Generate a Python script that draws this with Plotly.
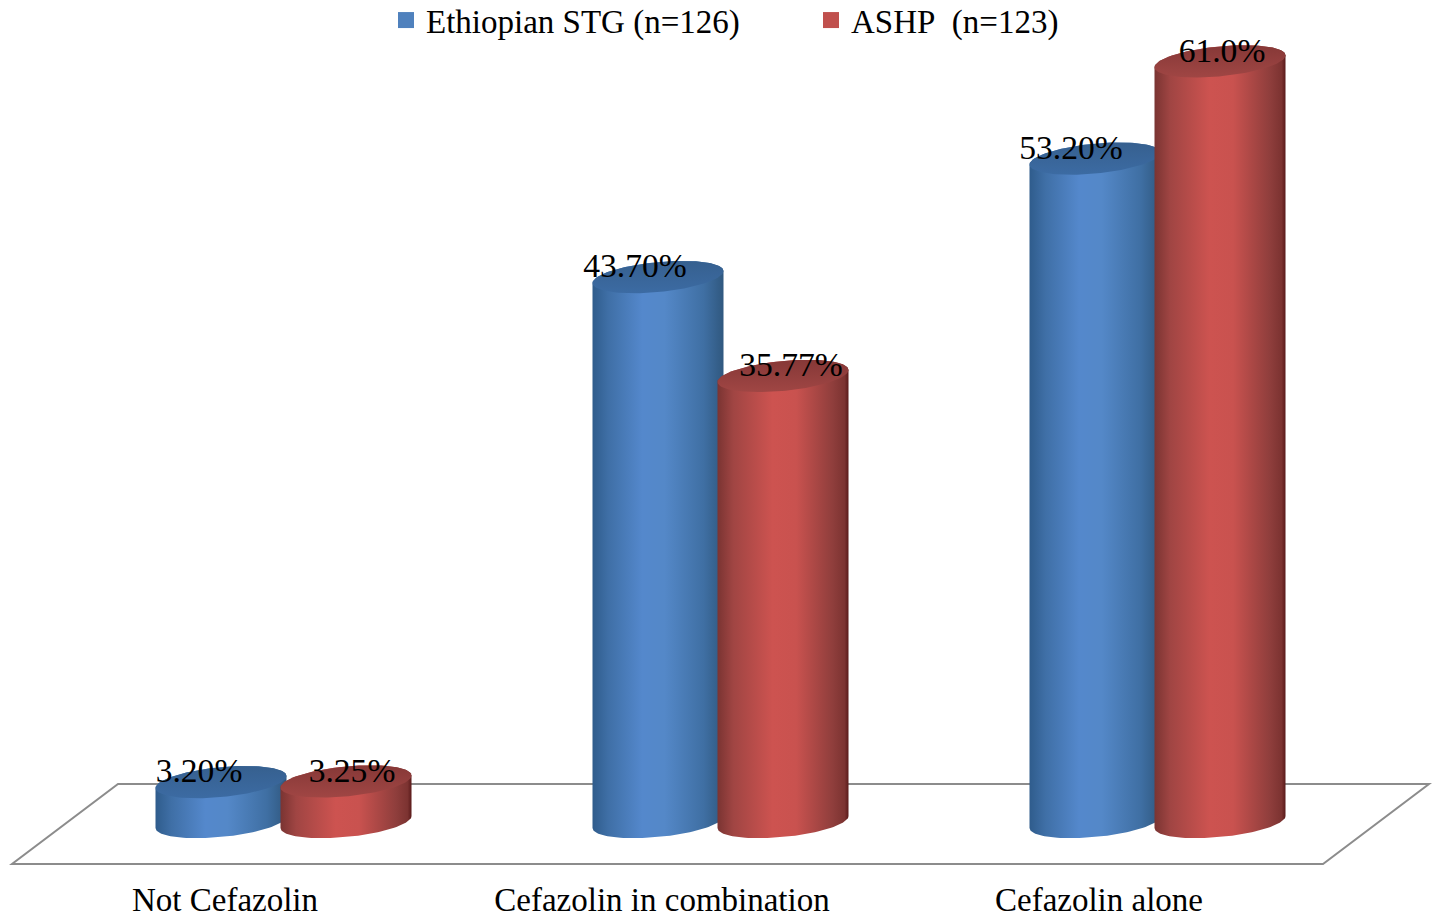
import numpy as np
import plotly.graph_objects as go

# ---- data ----
categories = ["Not Cefazolin", "Cefazolin in combination", "Cefazolin alone"]
series_names = ["Ethiopian STG (n=126)", "ASHP\u00a0 (n=123)"]
ethiopian_stg = [3.20, 43.70, 53.20]
ashp = [3.25, 35.77, 61.0]
ethiopian_labels = ["3.20%", "43.70%", "53.20%"]
ashp_labels = ["3.25%", "35.77%", "61.0%"]

# ---- page geometry ----
W, H = 1434, 915
PX_PER_UNIT_Y = 12.47
PX_PER_CAT = 437.0
BASE_PX = 822
CAT0_PX = 225
AXIS_PX = 877

def ux(px):
    return px / PX_PER_CAT

def uy(px):
    return px / PX_PER_UNIT_Y

xrange_ = [-CAT0_PX / PX_PER_CAT, (W - CAT0_PX) / PX_PER_CAT]
yrange_ = [-(AXIS_PX - BASE_PX) / PX_PER_UNIT_Y, BASE_PX / PX_PER_UNIT_Y]

# cylinder shape
HALF_W = ux(65.5)
CAP_B = uy(15)
CAP_TILT = uy(6)
OFFSETS = [ux(-4), ux(121)]
LABEL_DX = [[ux(-22), ux(-23), ux(-24)], [ux(6), ux(8), ux(2)]]
LABEL_DY = uy(8)

BODY_SCALES = [
    [[0, "#2f5c8c"], [0.12, "#3f6fa6"], [0.38, "#5488cc"], [0.55, "#5488c8"], [0.85, "#3f6fa3"], [1, "#30587f"]],
    [[0, "#7a3432"], [0.12, "#a04543"], [0.42, "#cd5350"], [0.6, "#c9524f"], [0.88, "#8f3e3c"], [0.97, "#7c3331"], [1, "#5a1a1a"]],
]
CAP_SCALES = [
    [[0, "#3c6ba3"], [1, "#36608f"]],
    [[0, "#a04644"], [1, "#863837"]],
]
SERIES_COLORS = ["#4f81bd", "#c0504d"]


def rim(cx, cy, t):
    """Tilted ellipse: the right end sits a little higher than the left end."""
    return cx + HALF_W * np.cos(t), cy + CAP_B * np.sin(t) + CAP_TILT * np.cos(t)


fig = go.Figure()

values = [ethiopian_stg, ashp]
labels = [ethiopian_labels, ashp_labels]

# the bars themselves (kept just inside the rounded outline drawn over them)
for s, name in enumerate(series_names):
    fig.add_trace(go.Bar(
        x=[i + OFFSETS[s] for i in range(len(categories))],
        y=values[s], width=2 * HALF_W * 0.9,
        marker=dict(color=SERIES_COLORS[s], line=dict(width=0)),
        showlegend=False, hoverinfo="skip",
    ))

# legend entries
for s, name in enumerate(series_names):
    fig.add_trace(go.Scatter(
        x=[None], y=[None], mode="markers", name=name,
        marker=dict(symbol="square", size=16, color=SERIES_COLORS[s]),
    ))

# cylinder shading derived from the same values
for s in range(2):
    for i, v in enumerate(values[s]):
        cx = i + OFFSETS[s]
        bx, by = rim(cx, 0, np.linspace(-np.pi, 0, 60))   # lower arc, left to right
        tx, ty = rim(cx, v, np.linspace(0, np.pi, 60))    # upper arc, right to left
        fig.add_trace(go.Scatter(
            x=np.concatenate([bx, tx]).tolist(),
            y=np.concatenate([by, ty]).tolist(),
            mode="lines", line=dict(width=0), fill="toself",
            fillgradient=dict(type="horizontal", colorscale=BODY_SCALES[s]),
            showlegend=False, hoverinfo="skip",
        ))
        ex, ey = rim(cx, v, np.linspace(0, 2 * np.pi, 120))
        fig.add_trace(go.Scatter(
            x=ex.tolist(), y=ey.tolist(),
            mode="lines", line=dict(width=0), fill="toself",
            fillgradient=dict(type="vertical", colorscale=CAP_SCALES[s]),
            showlegend=False, hoverinfo="skip",
        ))

# data labels
for s in range(2):
    fig.add_trace(go.Scatter(
        x=[i + OFFSETS[s] + LABEL_DX[s][i] for i in range(len(categories))],
        y=[v + LABEL_DY for v in values[s]],
        text=labels[s], mode="text", textposition="middle center",
        textfont=dict(family="Liberation Serif", size=33.6, color="#000000"),
        showlegend=False, hoverinfo="skip", cliponaxis=False,
    ))

# floor
floor_x = [ux(12 - CAT0_PX), ux(1323 - CAT0_PX), ux(1429 - CAT0_PX), ux(118 - CAT0_PX)]
floor_y = [uy(BASE_PX - 864), uy(BASE_PX - 864), uy(BASE_PX - 784), uy(BASE_PX - 784)]
path = "M " + " L ".join(f"{a},{b}" for a, b in zip(floor_x, floor_y)) + " Z"
fig.add_shape(type="path", path=path, xref="x", yref="y", layer="below",
              line=dict(color="#8c8c8c", width=2), fillcolor="rgba(0,0,0,0)")

fig.update_layout(
    width=W, height=H, paper_bgcolor="white", plot_bgcolor="white",
    margin=dict(l=0, r=0, t=0, b=H - AXIS_PX, autoexpand=False),
    barmode="overlay", bargap=0,
    font=dict(family="Liberation Serif", color="#000000"),
    xaxis=dict(range=xrange_, tickmode="array", tickvals=list(range(len(categories))),
               ticktext=categories, showgrid=False, zeroline=False, showline=False,
               ticks="", tickfont=dict(family="Liberation Serif", size=33)),
    yaxis=dict(range=yrange_, visible=False, showgrid=False, zeroline=False),
    legend=dict(orientation="h", x=386 / W, xanchor="left", y=1.009, yanchor="top",
                font=dict(family="Liberation Serif", size=33),
                entrywidth=380, entrywidthmode="pixels", itemwidth=30,
                bgcolor="rgba(0,0,0,0)", borderwidth=0),
    showlegend=True,
)

fig.write_html("out.html", config={"displayModeBar": False},
               post_script="document.body.style.margin='0';")
